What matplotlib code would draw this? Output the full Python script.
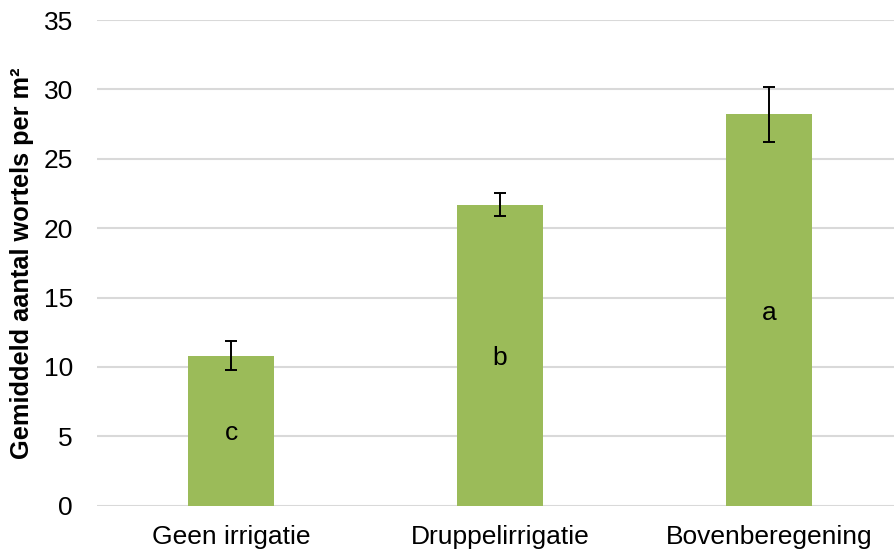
import matplotlib
matplotlib.use("Agg")
import matplotlib.pyplot as plt
import numpy as np

categories = ["Geen irrigatie", "Druppelirrigatie", "Bovenberegening"]
means = [10.8, 21.7, 28.2]
errors = [1.05, 0.85, 2.0]
letters = ["c", "b", "a"]
y_ticks = [0, 5, 10, 15, 20, 25, 30, 35]

plt.rcParams["font.family"] = ["Liberation Sans", "DejaVu Sans"]

W, H = 894, 553
fig = plt.figure(figsize=(W / 100, H / 100), dpi=100)
left, top, bottom = 96.5, 20, 505.7
ax = fig.add_axes([left / W, 1 - bottom / H, (W - left) / W, (bottom - top) / H])

x = np.arange(len(categories))
ax.bar(x, means, width=0.316, color="#9BBB59", zorder=2)
ax.errorbar(x, means, yerr=errors, fmt="none", ecolor="black",
            elinewidth=1.4, capsize=4.5, capthick=1.4, zorder=3)
for xi, m, lab in zip(x, means, letters):
    ax.text(xi, m / 2, lab, ha="center", va="center_baseline", fontsize=19, zorder=4)

ax.set_xlim(-0.5, -0.5 + (W - left) / 269)
ax.set_ylim(0, 35)
ax.set_yticks(y_ticks)
ax.set_xticks(x)
ax.set_xticklabels(categories)
ax.grid(axis="y", color="#D9D9D9", linewidth=1.5, zorder=0)
ax.set_axisbelow(True)
for s in ax.spines.values():
    s.set_visible(False)
ax.tick_params(length=0, labelsize=19)
ax.tick_params(axis="x", pad=14)
ax.tick_params(axis="y", pad=17)
fig.text(22 / W, 1 - 263 / H, "Gemiddeld aantal wortels per m²", rotation=90,
         ha="center", va="center", fontsize=18.3, fontweight="bold")

fig.savefig("out.png", dpi=100)
